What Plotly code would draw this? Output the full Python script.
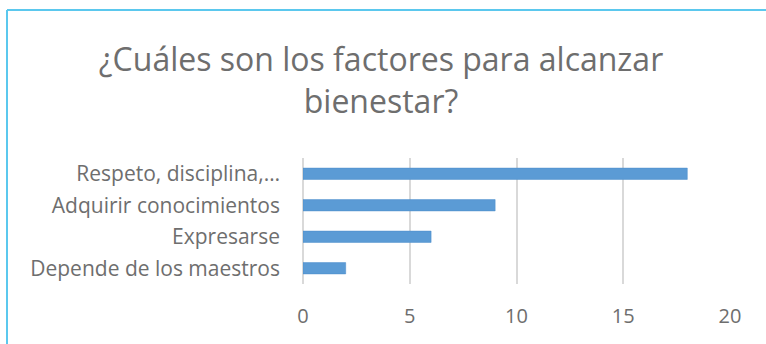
import plotly.graph_objects as go

categories = ["Depende de los maestros", "Expresarse", "Adquirir conocimientos", "Respeto, disciplina,…"]
values = [2, 6, 9, 18]
tick_vals = [0, 5, 10, 15, 20]
title_text = "¿Cuáles son los factores para alcanzar<br>bienestar?"

W, H = 766, 344
L, R, T, B = 303, 36, 158, 60
pw, ph = W - L - R, H - T - B

fig = go.Figure(go.Bar(
    x=values, y=categories, orientation="h",
    marker=dict(color="#5B9BD5", line=dict(color="#4A8CCB", width=0.5)),
    width=0.36,
))

border = "#5BC8EE"
def px_x(p):
    return (p - L) / pw
def px_y(p):
    return (H - B - p) / ph

fig.add_shape(type="line", xref="paper", yref="paper",
              x0=px_x(7), x1=px_x(770), y0=px_y(10), y1=px_y(10),
              line=dict(color=border, width=2))
fig.add_shape(type="line", xref="paper", yref="paper",
              x0=px_x(7), x1=px_x(7), y0=px_y(10), y1=px_y(350),
              line=dict(color=border, width=2))

fig.update_layout(
    width=W, height=H,
    margin=dict(l=L, r=R, t=T, b=B, pad=0),
    paper_bgcolor="white", plot_bgcolor="white",
    showlegend=False,
    title=dict(text=title_text, x=381 / W, xanchor="center",
               y=1 - 71 / H, yanchor="middle", yref="container",
               font=dict(family="Open Sans", size=32, color="#6E6E6E")),
    xaxis=dict(range=[0, 20], tickvals=tick_vals, showgrid=True,
               gridcolor="#D9D9D9", gridwidth=1.5,
               zeroline=True, zerolinecolor="#D9D9D9", zerolinewidth=1.5,
               showline=False, ticks="", ticklabelstandoff=18,
               tickfont=dict(family="Open Sans", size=20, color="#6E6E6E")),
    yaxis=dict(showgrid=False, showline=False, ticks="", zeroline=False,
               ticklabelstandoff=22,
               tickfont=dict(family="Open Sans", size=21, color="#6E6E6E")),
)

fig.write_html("out.html")
